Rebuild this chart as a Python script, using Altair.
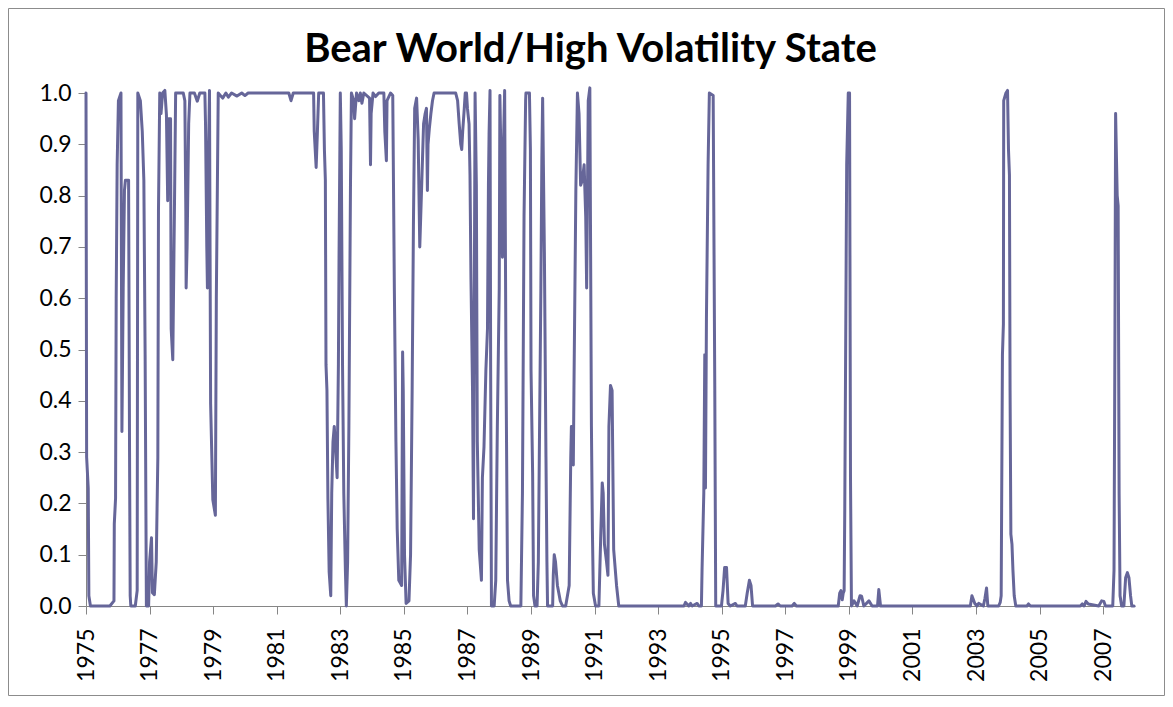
import altair as alt
import pandas as pd

years = [
    1975.00, 1975.02, 1975.07, 1975.09, 1975.14, 1975.75, 1975.88, 1975.89, 1975.93, 1975.95,
    1975.98, 1976.02, 1976.10, 1976.13, 1976.17, 1976.21, 1976.24, 1976.34, 1976.37, 1976.39,
    1976.41, 1976.55, 1976.61, 1976.63, 1976.71, 1976.77, 1976.82, 1976.86, 1976.90, 1976.97,
    1977.00, 1977.06, 1977.09, 1977.15, 1977.21, 1977.26, 1977.28, 1977.32, 1977.36, 1977.41,
    1977.48, 1977.53, 1977.57, 1977.60, 1977.66, 1977.68, 1977.73, 1977.78, 1977.82, 1978.06,
    1978.11, 1978.14, 1978.15, 1978.18, 1978.23, 1978.27, 1978.41, 1978.50, 1978.58, 1978.74,
    1978.76, 1978.80, 1978.82, 1978.84, 1978.885, 1978.92, 1978.99, 1979.07, 1979.10, 1979.16,
    1979.30, 1979.40, 1979.48, 1979.58, 1979.75, 1979.90, 1980.00, 1980.10, 1981.38, 1981.45,
    1981.52, 1982.16, 1982.18, 1982.21, 1982.24, 1982.28, 1982.32, 1982.47, 1982.50, 1982.53,
    1982.55, 1982.58, 1982.61, 1982.65, 1982.70, 1982.73, 1982.77, 1982.81, 1982.84, 1982.90,
    1982.94, 1982.96, 1983.00, 1983.03, 1983.07, 1983.11, 1983.16, 1983.19, 1983.23, 1983.27,
    1983.32, 1983.35, 1983.42, 1983.45, 1983.51, 1983.58, 1983.63, 1983.68, 1983.74, 1983.92,
    1983.95, 1983.97, 1984.03, 1984.11, 1984.21, 1984.37, 1984.40, 1984.45, 1984.47, 1984.58,
    1984.65, 1984.70, 1984.75, 1984.79, 1984.84, 1984.93, 1984.96, 1984.98, 1985.02, 1985.07,
    1985.16, 1985.21, 1985.26, 1985.30, 1985.34, 1985.40, 1985.45, 1985.50, 1985.585, 1985.62,
    1985.67, 1985.71, 1985.74, 1985.76, 1985.80, 1985.85, 1985.90, 1985.95, 1986.63, 1986.69,
    1986.74, 1986.79, 1986.82, 1986.85, 1986.90, 1986.93, 1986.97, 1987.00, 1987.05, 1987.08,
    1987.11, 1987.16, 1987.18, 1987.19, 1987.24, 1987.28, 1987.31, 1987.37, 1987.44, 1987.47,
    1987.52, 1987.58, 1987.63, 1987.66, 1987.68, 1987.71, 1987.73, 1987.755, 1987.84, 1987.89,
    1987.94, 1988.00, 1988.02, 1988.07, 1988.10, 1988.13, 1988.17, 1988.21, 1988.26, 1988.31,
    1988.36, 1988.68, 1988.73, 1988.78, 1988.83, 1988.84, 1988.95, 1988.98, 1989.00, 1989.05,
    1989.08, 1989.125, 1989.19, 1989.23, 1989.26, 1989.31, 1989.34, 1989.365, 1989.42, 1989.47,
    1989.50, 1989.52, 1989.68, 1989.70, 1989.73, 1989.77, 1989.83, 1989.92, 1989.99, 1990.09,
    1990.20, 1990.25, 1990.27, 1990.30, 1990.33, 1990.35, 1990.41, 1990.46, 1990.51, 1990.56,
    1990.615, 1990.67, 1990.72, 1990.75, 1990.77, 1990.80, 1990.85, 1990.90, 1990.93, 1990.96,
    1991.03, 1991.135, 1991.19, 1991.24, 1991.27, 1991.31, 1991.375, 1991.42, 1991.45, 1991.50,
    1991.55, 1991.60, 1991.69, 1991.76, 1993.81, 1993.86, 1993.89, 1993.96, 1994.02, 1994.07,
    1994.225, 1994.28, 1994.36, 1994.38, 1994.435, 1994.466, 1994.487, 1994.518, 1994.57, 1994.61,
    1994.73, 1994.78, 1994.81, 1994.99, 1995.04, 1995.09, 1995.15, 1995.20, 1995.27, 1995.43,
    1995.48, 1995.74, 1995.80, 1995.87, 1995.92, 1995.97, 1996.69, 1996.77, 1996.84, 1997.21,
    1997.28, 1997.35, 1998.665, 1998.71, 1998.75, 1998.79, 1998.82, 1998.85, 1998.87, 1998.93,
    1998.98, 1999.02, 1999.05, 1999.08, 1999.16, 1999.26, 1999.35, 1999.40, 1999.47, 1999.63,
    1999.73, 1999.90, 1999.94, 1999.995, 2002.82, 2002.87, 2002.96, 2003.03, 2003.08, 2003.23,
    2003.28, 2003.33, 2003.37, 2003.71, 2003.76, 2003.79, 2003.83, 2003.86, 2003.87, 2003.94,
    2003.99, 2004.02, 2004.05, 2004.07, 2004.095, 2004.13, 2004.16, 2004.20, 2004.25, 2004.60,
    2004.65, 2004.71, 2006.28, 2006.34, 2006.40, 2006.46, 2006.53, 2006.86, 2006.95, 2007.02,
    2007.07, 2007.30, 2007.34, 2007.37, 2007.39, 2007.44, 2007.47, 2007.50, 2007.53, 2007.58,
    2007.65, 2007.705, 2007.76, 2007.81, 2007.86, 2007.90, 2007.97,
]

probs = [
    1.00, 0.29, 0.23, 0.02, 0.00, 0.00, 0.01, 0.16, 0.21, 0.60,
    0.86, 0.985, 1.00, 0.34, 0.62, 0.81, 0.83, 0.83, 0.30, 0.02,
    0.00, 0.00, 0.03, 1.00, 0.985, 0.925, 0.83, 0.49, 0.00, 0.00,
    0.086, 0.133, 0.026, 0.022, 0.086, 0.29, 0.77, 1.00, 0.96, 1.00,
    1.005, 0.958, 0.79, 0.95, 0.95, 0.54, 0.48, 0.76, 1.00, 1.00,
    0.985, 0.77, 0.62, 0.70, 0.94, 1.00, 1.00, 0.984, 1.00, 1.00,
    0.94, 0.70, 0.62, 0.82, 1.005, 0.395, 0.207, 0.177, 0.60, 1.00,
    0.99, 1.00, 0.992, 1.00, 0.994, 1.00, 0.995, 1.00, 1.00, 0.985,
    1.00, 1.00, 0.925, 0.89, 0.855, 0.925, 1.00, 1.00, 0.89, 0.83,
    0.47, 0.42, 0.21, 0.066, 0.02, 0.22, 0.32, 0.35, 0.32, 0.25,
    0.47, 0.68, 1.00, 0.89, 0.47, 0.22, 0.07, 0.00, 0.086, 0.35,
    0.82, 1.00, 0.985, 0.95, 1.00, 0.985, 1.00, 0.98, 1.00, 0.99,
    0.86, 0.96, 1.00, 0.993, 1.00, 1.00, 0.925, 0.868, 0.985, 1.00,
    0.995, 0.62, 0.32, 0.15, 0.05, 0.04, 0.495, 0.42, 0.10, 0.005,
    0.01, 0.10, 0.42, 0.74, 0.97, 0.99, 0.91, 0.70, 0.87, 0.94,
    0.96, 0.97, 0.81, 0.90, 0.93, 0.96, 0.985, 1.00, 1.00, 0.985,
    0.94, 0.90, 0.89, 0.925, 0.97, 1.00, 1.00, 0.97, 0.94, 0.84,
    0.64, 0.42, 0.25, 0.17, 1.00, 0.82, 0.32, 0.11, 0.05, 0.25,
    0.31, 0.46, 0.54, 0.82, 0.92, 1.005, 0.46, 0.00, 0.00, 0.05,
    0.35, 0.62, 0.995, 0.82, 0.68, 0.89, 1.005, 0.49, 0.05, 0.01,
    0.00, 0.00, 0.22, 0.76, 0.985, 1.00, 1.00, 0.89, 0.46, 0.26,
    0.02, 0.00, 0.00, 0.086, 0.29, 0.62, 0.87, 0.99, 0.69, 0.29,
    0.086, 0.00, 0.00, 0.06, 0.10, 0.086, 0.04, 0.01, 0.00, 0.00,
    0.04, 0.29, 0.35, 0.35, 0.275, 0.42, 0.81, 1.00, 0.96, 0.82,
    0.83, 0.86, 0.76, 0.62, 0.76, 0.985, 1.01, 0.35, 0.15, 0.025,
    0.00, 0.00, 0.13, 0.24, 0.22, 0.12, 0.086, 0.06, 0.35, 0.43,
    0.42, 0.11, 0.04, 0.00, 0.00, 0.007, 0.005, 0.00, 0.005, 0.00,
    0.005, 0.00, 0.00, 0.07, 0.22, 0.49, 0.23, 0.56, 0.86, 1.00,
    0.995, 0.43, 0.00, 0.00, 0.03, 0.075, 0.075, 0.005, 0.00, 0.005,
    0.00, 0.00, 0.025, 0.05, 0.04, 0.00, 0.00, 0.004, 0.00, 0.00,
    0.005, 0.00, 0.00, 0.025, 0.03, 0.012, 0.025, 0.03, 0.19, 0.86,
    1.00, 1.00, 0.25, 0.00, 0.01, 0.00, 0.02, 0.019, 0.00, 0.01,
    0.00, 0.00, 0.032, 0.00, 0.00, 0.02, 0.005, 0.00, 0.005, 0.00,
    0.015, 0.035, 0.00, 0.00, 0.007, 0.02, 0.49, 0.55, 0.985, 1.00,
    1.005, 0.89, 0.84, 0.42, 0.14, 0.12, 0.07, 0.02, 0.00, 0.00,
    0.004, 0.00, 0.00, 0.004, 0.00, 0.009, 0.004, 0.00, 0.01, 0.009,
    0.00, 0.00, 0.07, 0.55, 0.96, 0.80, 0.78, 0.22, 0.02, 0.00,
    0.00, 0.055, 0.065, 0.055, 0.02, 0.00, 0.00,
]

tick_years = list(range(1975, 2008, 2))
y_ticks = [0.0, 0.1, 0.2, 0.3, 0.4, 0.5, 0.6, 0.7, 0.8, 0.9, 1.0]
title_text = "Bear World/High Volatility State"

df = pd.DataFrame({"year": years, "prob": probs})

FONT = "Lato"
AXIS_GRAY = "#868686"
PLOT_W, PLOT_H = 1049, 513
PAD_L, PAD_T, PAD_R, PAD_B = 78, 85, 30, 90

line = alt.Chart(df).mark_line(
    color="#666699", strokeWidth=3, strokeJoin="round", strokeCap="round"
).encode(
    x=alt.X(
        "year:Q",
        scale=alt.Scale(domain=[1975, 2008], nice=False, zero=False),
        axis=alt.Axis(
            title=None, values=tick_years, format="d", labelAngle=270,
            labelAlign="right", labelBaseline="middle",
            labelFont=FONT, labelFontSize=23, labelColor="#000000",
            labelPadding=14, tickSize=8, tickColor=AXIS_GRAY,
            domainColor=AXIS_GRAY, grid=False, labelOverlap=False,
        ),
    ),
    y=alt.Y(
        "prob:Q",
        scale=alt.Scale(domain=[0, 1], nice=False),
        axis=alt.Axis(
            title=None, values=y_ticks, format=".1f",
            labelFont=FONT, labelFontSize=23, labelColor="#000000",
            labelPadding=7, tickSize=8, tickColor=AXIS_GRAY,
            domainColor=AXIS_GRAY, grid=False, labelOverlap=False,
        ),
    ),
)

border = alt.Chart(alt.Data(values=[{"k": 1}])).mark_rect(
    fill=None, stroke="#8c8c8c", strokeWidth=1
).encode(
    x=alt.value(-PAD_L + 0.5),
    x2=alt.value(PLOT_W + PAD_R - 0.5),
    y=alt.value(-PAD_T + 0.5),
    y2=alt.value(PLOT_H + PAD_B - 0.5),
)

chart = alt.layer(border, line).properties(
    width=PLOT_W,
    height=PLOT_H,
    title=alt.TitleParams(
        text=title_text, font=FONT, fontSize=40, fontWeight="bold",
        color="#000000", anchor="middle", dx=-20, offset=-94,
        baseline="alphabetic",
    ),
    autosize=alt.AutoSizeParams(type="none"),
    padding={"left": PAD_L, "top": PAD_T, "right": PAD_R, "bottom": PAD_B},
    background="#ffffff",
).configure_view(stroke=None)

chart.save("out.html", embed_options={"renderer": "svg", "actions": False})
